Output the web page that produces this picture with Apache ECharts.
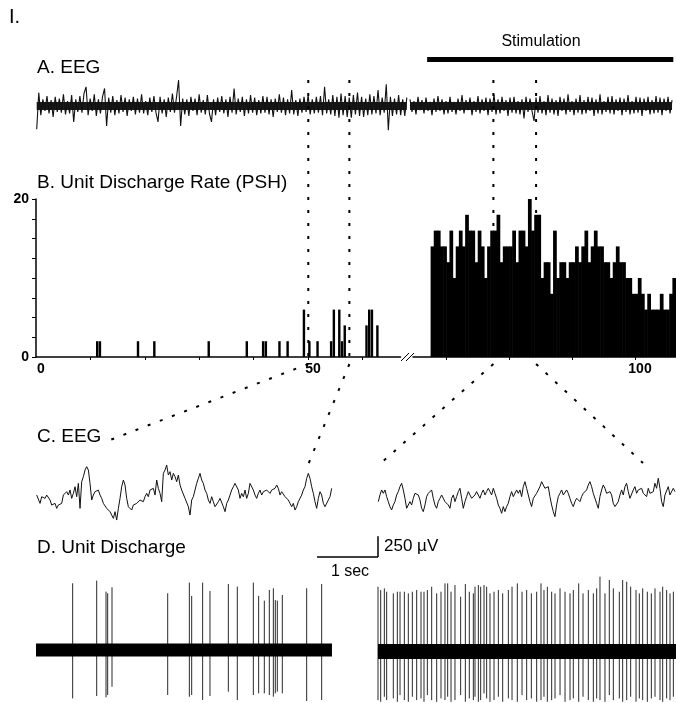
<!DOCTYPE html>
<html>
<head>
<meta charset="utf-8">
<script src="https://cdn.jsdelivr.net/npm/echarts@6/dist/echarts.min.js"></script>
<style>
  html, body { margin: 0; padding: 0; background: #fff; }
  #chart { width: 676px; height: 703px; }
</style>
</head>
<body>
<div id="chart"></div>
<script>
// ---------- data ----------
// A. EEG (uV), long record, sampled on the PSH time base (s)
const eegALeft = [-280,160,-110,80,-60,120,-90,70,-130,110,-70,90,-80,140,-100,60,-90,130,-190,80,
  -70,120,-80,150,230,-110,90,-60,140,-120,80,-90,110,210,-240,100,-80,120,-110,70,
  -90,130,-70,100,-120,80,-60,110,-100,90,-80,140,-90,60,-110,100,-70,120,-80,-190,
  110,-90,80,-130,100,-70,150,-80,110,310,-240,90,-100,80,-120,110,-60,90,-110,140,
  -80,70,-100,130,-90,-190,80,-110,100,-70,120,-90,80,-130,110,-80,210,-100,90,-70,
  110,-120,80,-90,130,-80,100,-110,70,-90,120,-80,110,-100,80,-130,90,-70,140,-80,
  100,-110,80,-90,190,-100,70,-120,90,-80,110,-70,130,-100,80,-90,110,-80,120,-110,
  230,-90,80,-100,130,-120,110,-140,150,-110,120,-130,100,-140,130,-100,160,-120,110,-130,
  90,-110,140,-100,120,-90,190,-110,100,-80,260,-290,110,-120,90,-100,130,-110,80,-120,100];
const eegARight = [80,-70,60,-100,110,-50,70,-90,100,-60,50,-110,90,-70,120,-60,80,-100,60,-90,
  110,-70,50,-100,90,-60,130,-90,70,-50,100,-110,60,-70,120,-90,80,-60,100,-110,
  90,-70,140,-100,80,-90,110,-60,70,-120,100,-80,110,-90,60,-100,80,-150,110,-70,
  90,-60,-180,100,-80,120,-90,60,-110,130,-80,90,-100,70,-120,110,-60,90,-100,140,
  -70,60,-110,90,-80,130,-100,70,-90,110,-60,100,-120,80,-90,140,-100,60,-70,110,
  -90,120,-100,80,-60,100,-110,90,-70,130,-100,60,-90,110,-80,100,-120,90,-60,110,
  -100,70,-90,120,-80,100,-110,90,-60,110,-90,70];
const eegALeftStart = 0, eegALeftStep = 0.378;
const eegARightStart = 64.17, eegARightStep = 0.3185;

// B. PSH (spikes/s), 0.5 s bins
const binWidth = 0.5;
const pshLeftStart = [11, 11.5, 18.5, 21.5, 31.5, 38.5, 41.5, 42, 44.5, 46, 49, 50, 51.5, 54, 54.5, 55.5, 56, 56.5, 60.5, 61, 61.5, 62.5];
const pshLeftRate  = [2, 2, 2, 2, 2, 2, 2, 2, 2, 2, 6, 2, 2, 2, 6, 6, 2, 4, 4, 6, 6, 4];
const pshRightFirstBin = 67.5;
const pshRightRate = [14,16,16,14,14,12,16,10,14,16,14,18,16,16,12,16,14,10,14,16,
  16,18,12,14,14,14,16,12,16,16,14,20,16,18,18,10,12,12,8,16,
  10,12,12,10,12,12,14,12,14,16,12,14,16,14,14,12,12,10,12,14,
  12,12,10,10,8,8,10,8,6,8,6,6,6,8,6,6,8,10];
const stimulation = [66.9, 106.1];
const windowLeft = [50.05, 57.6];
const windowRight = [77.45, 84.25];

// C. EEG (uV), expanded windows
const eegStepC = 0.02732;
const eegCLeft = [20,40,-80,0,20,-20,20,0,-40,-100,-120,-80,-140,-100,-120,-80,20,0,60,20,
  80,-20,40,120,0,160,-140,180,240,320,360,320,160,-40,20,60,40,80,20,-20,
  -80,-60,-140,-160,-180,-200,-260,-180,-280,-140,-20,120,200,140,-20,-120,-140,-160,-100,-120,
  -80,-60,-40,-20,-60,0,40,0,80,60,100,20,200,100,40,-60,280,320,380,260,
  300,200,280,240,180,260,140,80,60,-20,-40,-120,-220,-40,0,20,160,220,280,200,
  160,80,40,-40,-80,0,-60,-120,-100,-60,-20,0,-120,-180,-80,-40,20,80,120,160,
  140,80,-20,40,0,80,-20,40,160,180,80,20,-20,40,80,20,60,40,80,60,
  40,80,60,100,140,100,20,60,40,0,-20,-40,-80,-120,-80,-160,-120,-60,-20,20,
  80,120,220,280,220,120,40,-60,-140,-20,60,20,-80,-120,-100,-40,0,100];
const eegCRight = [-40,40,100,60,100,20,-40,-100,-140,-80,-40,40,80,140,180,100,0,-120,-100,-40,
  -80,0,60,80,40,-20,-120,-160,-80,20,60,40,100,0,-80,-120,-40,0,40,20,
  -40,-20,-80,-120,0,40,-40,20,80,120,0,-120,-40,20,80,60,0,-20,40,80,
  40,0,60,100,40,80,120,80,40,120,60,0,-80,-120,-180,-100,-160,-100,-60,20,
  80,20,40,100,60,100,20,140,200,120,40,-40,-100,0,-20,60,100,140,200,180,
  120,100,140,20,-80,-160,-220,-80,20,60,100,40,20,100,60,0,-60,-100,-40,0,
  -20,-40,20,60,40,100,160,200,140,60,40,-60,-120,20,100,160,120,60,40,80,
  40,-60,-100,-80,-40,40,100,40,140,180,80,0,20,100,140,60,100,80,120,60,
  80,20,120,60,40,80,180,120,240,120,-40,-100,40,60,140,40,60,120,80];

// D. Unit discharge: spike time (s), positive peak (uV), negative peak (uV)
const unitLeftT    = [0.601,0.995,1.148,1.175,1.246,2.159,2.514,2.552,2.732,2.852,3.153,3.300,3.563,3.650,3.743,3.825,3.891,3.923,3.956,4.038,4.437,4.683];
const unitLeftUp   = [760,790,665,646,714,646,768,616,768,673,752,722,768,616,562,684,703,570,562,627,703,752];
const unitLeftDown = [-551,-524,-540,-513,-418,-513,-532,-513,-570,-524,-475,-570,-513,-494,-494,-513,-532,-494,-475,-494,-581,-570];
const unitRightT = [0.00,0.044,0.104,0.142,0.251,0.317,0.361,0.432,0.497,0.563,0.634,0.705,0.754,0.809,0.880,0.962,1.033,1.098,1.142,1.197,
  1.262,1.355,1.432,1.497,1.563,1.590,1.645,1.683,1.738,1.781,1.836,1.902,1.973,2.044,2.137,2.197,2.284,2.361,2.437,2.514,
  2.601,2.672,2.721,2.776,2.847,2.902,2.984,3.066,3.148,3.202,3.290,3.361,3.448,3.530,3.585,3.639,3.721,3.792,3.858,3.956,
  4.011,4.077,4.142,4.230,4.284,4.339,4.415,4.481,4.541,4.623,4.667,4.732,4.787,4.842];
const unitRightUp = [737,699,718,680,661,680,680,680,661,680,699,680,680,699,737,661,680,775,775,680,
  756,623,768,680,661,737,756,737,756,737,661,680,699,661,699,737,775,680,699,661,
  680,775,699,737,680,661,718,680,661,699,775,661,699,661,718,851,661,813,718,680,
  813,794,737,699,661,718,680,661,718,680,737,699,661,680];
const unitRightDown = [-555,-574,-517,-555,-536,-574,-498,-555,-574,-517,-555,-536,-574,-498,-555,-574,-536,-555,-517,-574,
  -555,-498,-574,-536,-555,-517,-574,-555,-479,-536,-574,-555,-517,-574,-536,-555,-574,-498,-555,-536,
  -574,-555,-517,-574,-555,-536,-498,-574,-555,-536,-574,-517,-555,-574,-536,-555,-574,-498,-555,-536,
  -574,-555,-517,-574,-536,-555,-574,-536,-517,-555,-574,-536,-555,-517];
const bandLeftEnd = 4.852, bandRightEnd = 4.885;

// ---------- chart ----------
const FONT = "'Liberation Sans', Arial, sans-serif";
const chart = echarts.init(document.getElementById('chart'), null, { renderer: 'canvas' });

const series = (arr, t0, dt) => arr.map((v, i) => [t0 + i * dt, v]);
const lastT = (arr, t0, dt) => t0 + (arr.length - 1) * dt;

const grid = (left, top, width, height) => ({ left, top, width, height, containLabel: false, outerBoundsMode: 'none' });
const hidden = (gridIndex, min, max) => ({ type: 'value', gridIndex, min, max, show: false, splitLine: { show: false } });

const histItem = (overlap) => (params, api) => {
  const start = api.value(0);
  const p0 = api.coord([start, api.value(1)]);
  const p1 = api.coord([start + binWidth, 0]);
  return {
    type: 'rect',
    shape: { x: p0[0] - overlap / 2, y: p0[1], width: p1[0] - p0[0] + overlap, height: p1[1] - p0[1] },
    style: { fill: '#000' }
  };
};

const spikeItem = (params, api) => {
  const a = api.coord([api.value(0), api.value(1)]);
  const b = api.coord([api.value(0), api.value(2)]);
  return {
    type: 'line',
    shape: { x1: a[0], y1: a[1], x2: b[0], y2: b[1] },
    style: { stroke: '#2a2a2a', lineWidth: 1 }
  };
};

const traceStyle = { color: '#111', width: 1 };
const noSym = { showSymbol: false, symbol: 'none' };

const option = {
  backgroundColor: '#fff',
  animation: false,
  grid: [
    grid(36.7, 76, 370, 60),       // A left
    grid(410, 76, 266, 60),        // A right
    grid(36, 199, 364.5, 158),     // B left
    grid(413, 199, 263, 158),      // B right
    grid(36.7, 446.7, 296, 100),   // C left
    grid(378.3, 448.3, 297.7, 100),// C right
    grid(36, 571, 296, 158),       // D left
    grid(378, 572.4, 298, 158)     // D right
  ],
  xAxis: [
    hidden(0, 0, 370 / 5.44),
    hidden(1, 64.17, 64.17 + 266 / 6.28),
    {
      type: 'value', gridIndex: 2, min: 0, max: 67,
      axisLine: { show: true, onZero: false, lineStyle: { color: '#000', width: 1.5 } },
      axisTick: { show: true, customValues: [10, 20, 30, 40, 50, 60], length: 3, lineStyle: { color: '#000' } },
      axisLabel: { customValues: [0, 50], color: '#000', fontFamily: FONT, fontSize: 14, fontWeight: 'bold', margin: 5, padding: [0, 0, 0, 10] },
      splitLine: { show: false }
    },
    {
      type: 'value', gridIndex: 3, min: 64.65, max: 64.65 + 263 / 6.28,
      axisLine: { show: true, onZero: false, lineStyle: { color: '#000', width: 1.5 } },
      axisTick: { show: true, customValues: [70, 80, 90, 100], length: 3, lineStyle: { color: '#000' } },
      axisLabel: { customValues: [100], color: '#000', fontFamily: FONT, fontSize: 14, fontWeight: 'bold', margin: 5, padding: [0, 0, 0, 10] },
      splitLine: { show: false }
    },
    hidden(4, 0, 296 / 61),
    hidden(5, 0, 297.7 / 61),
    hidden(6, 0, 296 / 61),
    hidden(7, 0, 298 / 61)
  ],
  yAxis: [
    hidden(0, -360, 360),
    hidden(1, -360, 360),
    {
      type: 'value', gridIndex: 2, min: 0, max: 20, interval: 2.5,
      axisLine: { show: true, lineStyle: { color: '#000', width: 1.5 } },
      axisTick: { show: true, length: 4, lineStyle: { color: '#000' } },
      axisLabel: { customValues: [0, 20], color: '#000', fontFamily: FONT, fontSize: 14, fontWeight: 'bold', margin: 7 },
      splitLine: { show: false }
    },
    hidden(3, 0, 20),
    hidden(4, -600, 600),
    hidden(5, -600, 600),
    hidden(6, -900, 900),
    hidden(7, -900, 900)
  ],
  series: [
    // dense core of the long EEG record, then the trace over it
    { type: 'line', xAxisIndex: 0, yAxisIndex: 0, ...noSym,
      data: [[eegALeftStart, 0], [lastT(eegALeft, eegALeftStart, eegALeftStep), 0]], lineStyle: { color: '#1a1a1a', width: 8 } },
    { type: 'line', xAxisIndex: 1, yAxisIndex: 1, ...noSym,
      data: [[eegARightStart, 0], [lastT(eegARight, eegARightStart, eegARightStep), 0]], lineStyle: { color: '#1a1a1a', width: 8 } },
    { type: 'line', xAxisIndex: 0, yAxisIndex: 0, data: series(eegALeft, eegALeftStart, eegALeftStep), ...noSym, lineStyle: { color: '#111', width: 1.1 } },
    { type: 'line', xAxisIndex: 1, yAxisIndex: 1, data: series(eegARight, eegARightStart, eegARightStep), ...noSym, lineStyle: { color: '#111', width: 1.1 } },
    { type: 'custom', xAxisIndex: 2, yAxisIndex: 2, renderItem: histItem(-0.3),
      data: pshLeftStart.map((s, i) => [s, pshLeftRate[i]]) },
    { type: 'custom', xAxisIndex: 3, yAxisIndex: 3, renderItem: histItem(0.6),
      data: pshRightRate.map((r, i) => [pshRightFirstBin + i * binWidth, r]) },
    { type: 'line', xAxisIndex: 4, yAxisIndex: 4, data: series(eegCLeft, 0, eegStepC), ...noSym, lineStyle: traceStyle },
    { type: 'line', xAxisIndex: 5, yAxisIndex: 5, data: series(eegCRight, 0, eegStepC), ...noSym, lineStyle: traceStyle },
    { type: 'line', xAxisIndex: 6, yAxisIndex: 6, data: [[0, 0], [bandLeftEnd, 0]], ...noSym, lineStyle: { color: '#000', width: 13 } },
    { type: 'line', xAxisIndex: 7, yAxisIndex: 7, data: [[0, 0], [bandRightEnd, 0]], ...noSym, lineStyle: { color: '#000', width: 15 } },
    { type: 'custom', xAxisIndex: 6, yAxisIndex: 6, renderItem: spikeItem, encode: { x: 0, y: [1, 2] },
      data: unitLeftT.map((t, i) => [t, unitLeftUp[i], unitLeftDown[i]]) },
    { type: 'custom', xAxisIndex: 7, yAxisIndex: 7, renderItem: spikeItem, encode: { x: 0, y: [1, 2] },
      data: unitRightT.map((t, i) => [t, unitRightUp[i], unitRightDown[i]]) }
  ]
};

chart.setOption(option);

// ---------- annotations ----------
const px = (axis, v) => chart.convertToPixel({ xAxisIndex: axis }, v);
const py = (axis, v) => chart.convertToPixel({ yAxisIndex: axis }, v);
const dots = { stroke: '#000', lineWidth: 2, lineDash: [3, 10] };
const text = (x, y, str, size, align) => ({
  type: 'text', x, y, z: 10,
  style: { text: str, fontFamily: FONT, fontSize: size, fill: '#000', align: align || 'left', verticalAlign: 'middle' }
});
const seg = (x1, y1, x2, y2, style) => ({ type: 'line', z: 10, shape: { x1, y1, x2, y2 }, style });

const wl0 = px(2, windowLeft[0]), wl1 = px(2, windowLeft[1]);
const wr0 = px(3, windowRight[0]), wr1 = px(3, windowRight[1]);
const stim0 = px(1, stimulation[0]), stim1 = px(1, stimulation[1]);
const oneSec = px(4, 1) - px(4, 0);
const uv250 = py(4, 0) - py(4, 250);
const barX = 378, barY = 557;

chart.setOption({
  graphic: [
    text(9, 17, 'I.', 20),
    text(541, 42, 'Stimulation', 16, 'center'),
    { type: 'rect', z: 10, shape: { x: stim0, y: 57, width: stim1 - stim0, height: 5 }, style: { fill: '#000' } },
    text(37, 68, 'A. EEG', 19),
    text(37, 183, 'B. Unit Discharge Rate (PSH)', 19),
    text(37, 437, 'C. EEG', 19),
    text(37, 548, 'D. Unit Discharge', 19),
    text(384, 546, '250 \u00b5V', 17),
    text(barX - 28, 572, '1 sec', 16, 'center'),
    seg(barX - oneSec, barY, barX, barY, { stroke: '#000', lineWidth: 1.5 }),
    seg(barX, barY, barX, barY - uv250, { stroke: '#000', lineWidth: 1.5 }),
    // axis break
    seg(401, 361, 409, 353, { stroke: '#000', lineWidth: 1 }),
    seg(406, 361, 414, 353, { stroke: '#000', lineWidth: 1 }),
    // selected windows
    seg(wl0, 80, wl0, 360, dots),
    seg(wl1, 80, wl1, 360, dots),
    seg(wr0, 80, wr0, 360, dots),
    seg(wr1, 80, wr1, 360, dots),
    seg(wl0, 364, 110, 440, dots),
    seg(wl1, 364, 308, 465, dots),
    seg(wr0, 364, 381, 463, dots),
    seg(wr1, 364, 643, 463, dots)
  ]
});
</script>
</body>
</html>
